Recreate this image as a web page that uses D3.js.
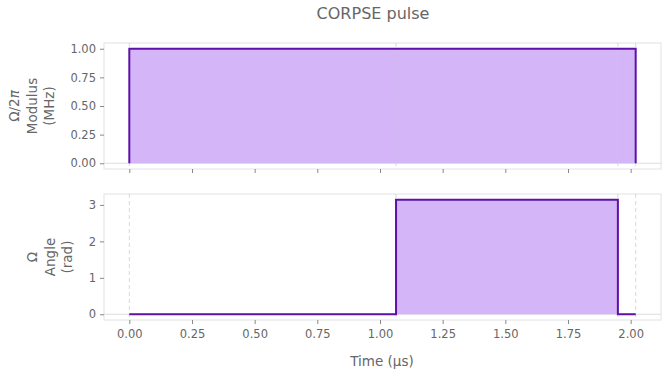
<!doctype html>
<html lang="en">
  <head>
    <meta charset="UTF-8" />
    <title>CORPSE pulse</title>
    <script src="https://d3js.org/d3.v7.min.js"></script>
    <style>
      body { margin: 0; background: #fff; }
      svg { font-family: "DejaVu Sans", sans-serif; }
      .tick text { fill: #666; font-size: 11.5px; font-family: "DejaVu Sans", sans-serif; }
      .tick line { stroke: #888; }
      .domain { display: none; }
    </style>
  </head>
  <body>
    <svg width="668" height="376"></svg>
    <script>
      // segment boundaries (µs) and per-segment values
      const times = [0, 1.064, 1.949, 2.02];
      const modulus = [1, 1, 1];
      const angle = [0, Math.PI, 0];
      const xTicks = [0, 0.25, 0.5, 0.75, 1.0, 1.25, 1.5, 1.75, 2.0];

      const svg = d3.select("svg");
      const left = 104, right = 661;
      const lineColor = "#5e11a6", fillColor = "#d4b6f8";

      const x = d3.scaleLinear().domain([-0.101, 2.121]).range([left, right]);

      function stepPoints(vals) {
        const pts = [[times[0], 0]];
        vals.forEach((v, i) => {
          pts.push([times[i], v]);
          pts.push([times[i + 1], v]);
        });
        pts.push([times[times.length - 1], 0]);
        return pts;
      }

      function panel(top, bottom, vals, yDomain, yTicks, yFmt, labels, labelX, showX) {
        const y = d3.scaleLinear().domain(yDomain).range([bottom, top]);
        const g = svg.append("g");

        // frame
        g.append("rect")
          .attr("x", left).attr("y", top)
          .attr("width", right - left).attr("height", bottom - top)
          .attr("fill", "none").attr("stroke", "#e2e2e2");

        // zero line
        g.append("line")
          .attr("x1", left).attr("x2", right)
          .attr("y1", y(0)).attr("y2", y(0))
          .attr("stroke", "#ddd");

        const pts = stepPoints(vals);
        g.append("path")
          .datum(pts)
          .attr("fill", fillColor)
          .attr("d", d3.area().x((d) => x(d[0])).y0(y(0)).y1((d) => y(d[1])));

        // segment boundaries
        g.selectAll(".bound")
          .data(times)
          .enter()
          .append("line")
          .attr("x1", (d) => x(d)).attr("x2", (d) => x(d))
          .attr("y1", top).attr("y2", bottom)
          .attr("stroke", "#c8c8d8").attr("stroke-opacity", 0.7)
          .attr("stroke-dasharray", "4,3");

        g.append("path")
          .datum(pts)
          .attr("fill", "none")
          .attr("stroke", lineColor)
          .attr("stroke-width", 2)
          .attr("d", d3.line().x((d) => x(d[0])).y((d) => y(d[1])));

        g.append("g")
          .attr("transform", `translate(${left},0)`)
          .call(d3.axisLeft(y).tickValues(yTicks).tickFormat(yFmt).tickSize(4).tickPadding(4));

        g.append("g")
          .attr("transform", `translate(0,${bottom})`)
          .call(
            d3.axisBottom(x).tickValues(xTicks)
              .tickFormat(showX ? d3.format(".2f") : "")
              .tickSize(4).tickPadding(6)
          );

        const cy = (top + bottom) / 2;
        labels.forEach((t, i) => {
          svg.append("text")
            .attr("transform", `translate(${labelX + i * 17.5},${cy}) rotate(-90)`)
            .attr("text-anchor", "middle")
            .attr("dominant-baseline", "central")
            .attr("fill", "#666")
            .attr("font-size", "13.5px")
            .html(t);
        });
      }

      panel(43, 169, modulus, [-0.05, 1.05], [0, 0.25, 0.5, 0.75, 1.0], d3.format(".2f"),
        ["Ω/2<tspan font-style='italic'>π</tspan>", "Modulus", "(MHz)"], 14, false);
      panel(194, 320, angle, [-0.157, 3.299], [0, 1, 2, 3], d3.format("d"),
        ["Ω", "Angle", "(rad)"], 32, true);

      svg.append("text")
        .attr("x", 373).attr("y", 19)
        .attr("text-anchor", "middle")
        .attr("fill", "#666")
        .attr("font-size", "16px")
        .text("CORPSE pulse");

      svg.append("text")
        .attr("x", 382).attr("y", 366)
        .attr("text-anchor", "middle")
        .attr("fill", "#666")
        .attr("font-size", "13.5px")
        .text("Time (µs)");
    </script>
  </body>
</html>
